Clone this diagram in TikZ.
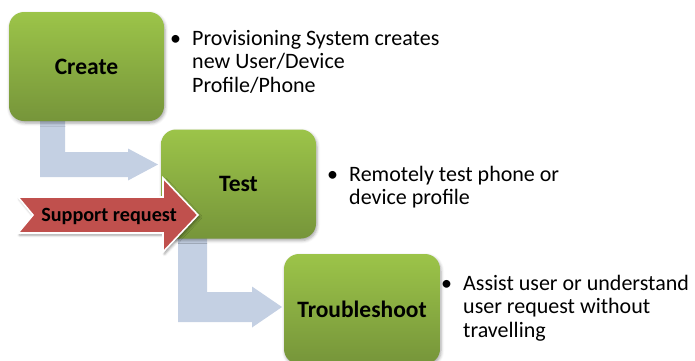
\documentclass[tikz,border=0pt]{standalone}
\usepackage{fontspec}
\setmainfont{Carlito}
\usetikzlibrary{calc,shadows.blur}

\definecolor{boxtop}{HTML}{9CC449}
\definecolor{boxbot}{HTML}{76953A}
\definecolor{flowblue}{HTML}{C4D0E3}
\definecolor{supportred}{HTML}{C0504D}

\begin{document}
\begin{tikzpicture}[x=1pt,y=-1pt,
  stage/.style={rounded corners=15pt, top color=boxtop, bottom color=boxbot,
    minimum width=155pt, minimum height=109pt, inner sep=0pt,
    font=\fontsize{23.5}{27}\selectfont\bfseries,
    blur shadow={shadow xshift=1pt, shadow yshift=-2pt, shadow blur radius=3pt, shadow opacity=35}},
  flow/.style={fill=flowblue},
  supportarrow/.style={fill=supportred, draw=white, line width=1.6pt, line join=miter,
    blur shadow={shadow xshift=1.5pt, shadow yshift=-2pt, shadow blur radius=2.5pt, shadow opacity=40}},
  bulletmark/.style={anchor=base west, inner sep=0pt, font=\fontsize{22}{23.5}\selectfont},
  % the base of a multi-line note is the baseline of its last line
  note/.style={anchor=base west, align=left, inner sep=0pt, font=\fontsize{22}{23.5}\selectfont}]

\useasboundingbox (0,0) rectangle (695,360);

% block arrows linking the stages (behind the boxes)
\path[flow] (40,115) -- (65,115) -- (65,152) -- (128,152) -- (128,148.5) -- (158,164.5)
  -- (128,180.5) -- (128,177) -- (40,177) -- cycle;
\path[flow] (178,235) -- (207,235) -- (207,292) -- (252,292) -- (252,286.5) -- (282,307)
  -- (252,327.5) -- (252,322) -- (178,322) -- cycle;

% stages
\node[stage] (create) at (86.5,66.5) {Create};
\node[stage] (test) at (238.5,184) {Test};
\node[stage, minimum width=156pt, minimum height=110pt] (trouble) at (362,309) {Troubleshoot};

% incoming support request
\path[supportarrow] (18,197) -- (163,197) -- (163,178) -- (198,215) -- (163,252)
  -- (163,233) -- (18,233) -- (33,215) -- cycle;
\node[inner sep=0pt, font=\fontsize{20.2}{22}\selectfont\bfseries] (support) at (109,216) {Support request};

% notes
\node[bulletmark] (b1) at (170,45) {•};
\node[note] (n1) at (192,92) {Provisioning System creates\\new User/Device\\Profile/Phone};
\node[bulletmark] (b2) at (327,181) {•};
\node[note] (n2) at (349,204.5) {Remotely test phone or\\device profile};
\node[bulletmark] (b3) at (441,290) {•};
\node[note] (n3) at (463,337) {Assist user or understand\\user request without\\travelling};
\end{tikzpicture}
\end{document}
